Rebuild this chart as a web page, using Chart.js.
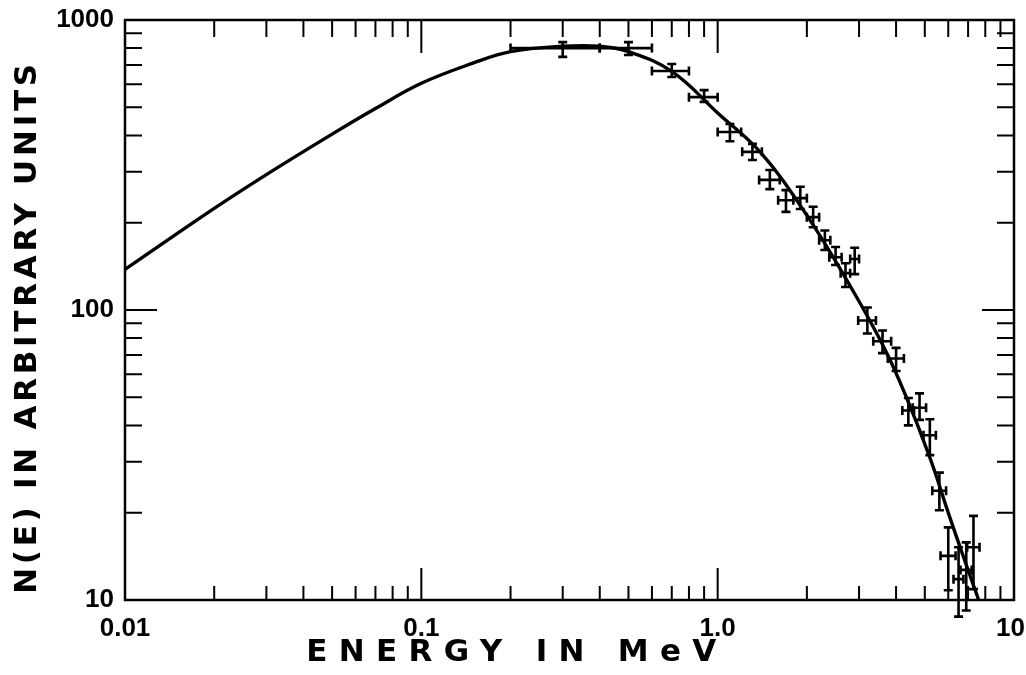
<!DOCTYPE html>
<html>
<head>
<meta charset="utf-8">
<script src="https://cdn.jsdelivr.net/npm/chart.js@4.4.1/dist/chart.umd.min.js"></script>
<style>
  html, body { margin: 0; padding: 0; background: #fff; }
  #wrap { width: 1026px; height: 675px; position: relative; }
</style>
</head>
<body>
<div id="wrap"><canvas id="chart"></canvas></div>
<script>
// measured spectrum points (MeV, arbitrary units)
const energy = [0.3, 0.5, 0.7, 0.9, 1.1, 1.31, 1.5, 1.7, 1.9, 2.1, 2.3, 2.5, 2.7, 2.9,
  3.2, 3.6, 4.0, 4.4, 4.8, 5.2, 5.6, 6.0, 6.5, 6.9, 7.3];
const energyErr = [0.1, 0.1, 0.1, 0.1, 0.1, 0.1, 0.12, 0.1, 0.1, 0.1, 0.1, 0.12, 0.1, 0.1,
  0.22, 0.25, 0.25, 0.2, 0.25, 0.25, 0.3, 0.35, 0.25, 0.3, 0.35];
const counts = [800, 800, 667, 542, 411, 351, 281, 239, 243, 209, 174, 152, 134, 150,
  92, 78, 68, 45, 46, 37, 23.8, 14.2, 11.8, 12.7, 15.2];
const countsLow = [746, 757, 636, 522, 382, 329, 261, 218, 223, 193, 161, 143, 120, 133,
  83, 71, 61.6, 40, 41.8, 31.6, 20.4, 10.8, 8.76, 9.2, 10.9];
const countsHigh = [839, 839, 705, 573, 438, 374, 304, 259, 266, 227, 188, 165, 145, 164,
  102, 85, 74, 49.7, 51.6, 42, 27.5, 17.8, 15.2, 15.8, 19.5];

// smooth theoretical curve
const fitE = [0.01, 0.02, 0.03, 0.05, 0.07, 0.1, 0.15, 0.2, 0.3, 0.4, 0.5, 0.7,
  1.0, 1.4, 2.0, 2.8, 3.6, 4.3, 5.2, 6.0, 6.8, 7.6];
const fitN = [138, 224, 293, 404, 495, 605, 711, 778, 812, 812, 778, 665,
  478, 348, 212, 121, 76, 51, 31, 20, 13.8, 10];

const xTickLabels = { 0.01: '0.01', 0.1: '0.1', 1: '1.0', 10: '10 ' };
const yTickLabels = { 10: '10', 100: '100', 1000: '1000' };
const xTitle = 'ENERGY IN MeV';
const yTitle = 'N(E) IN ARBITRARY UNITS';

const INK = '#000';
const TITLE_FONT = 'bold 31px "DejaVu Sans", sans-serif';

function decadeTicks(min, max) {
  const out = [];
  for (let v = min; v <= max * 1.0001; v *= 10) out.push({ value: v });
  return out;
}

function minorValues(min, max) {
  const out = [];
  for (let d = min; d < max * 0.999; d *= 10) {
    for (let k = 1; k <= 9; k++) out.push({ v: d * k, major: k === 1 });
  }
  out.push({ v: max, major: true });
  return out;
}

// frame + inward ticks on all four sides, plus the axis titles
const frameTicks = {
  id: 'frameTicks',
  afterDraw(chart) {
    const { ctx, chartArea: a, scales } = chart;
    const xs = scales.x, ys = scales.y;
    ctx.save();
    ctx.strokeStyle = INK;
    ctx.lineWidth = 2.5;
    ctx.strokeRect(a.left, a.top, a.right - a.left, a.bottom - a.top);
    ctx.lineWidth = 2;
    minorValues(xs.min, xs.max).forEach(t => {
      const px = xs.getPixelForValue(t.v);
      ctx.beginPath();
      ctx.moveTo(px, a.bottom); ctx.lineTo(px, a.bottom - (t.major ? 32 : 14));
      ctx.moveTo(px, a.top); ctx.lineTo(px, a.top + (t.major ? 33 : 17));
      ctx.stroke();
    });
    minorValues(ys.min, ys.max).forEach(t => {
      const py = ys.getPixelForValue(t.v);
      const len = t.major ? 32 : 17;
      ctx.beginPath();
      ctx.moveTo(a.left, py); ctx.lineTo(a.left + len, py);
      ctx.moveTo(a.right, py); ctx.lineTo(a.right - len, py);
      ctx.stroke();
    });

    ctx.fillStyle = INK;
    ctx.font = TITLE_FONT;
    ctx.textAlign = 'center';
    ctx.textBaseline = 'middle';
    const spread = (text, target) => {
      ctx.letterSpacing = '0px';
      const w = ctx.measureText(text).width;
      const sp = Math.max(0, (target - w) / (text.length - 1));
      ctx.letterSpacing = sp.toFixed(2) + 'px';
    };
    spread(xTitle, 410);
    ctx.fillText(xTitle, 517, 653);
    ctx.save();
    ctx.translate(28, 327);
    ctx.rotate(-Math.PI / 2);
    spread(yTitle, 530);
    ctx.fillText(yTitle, 0, 0);
    ctx.restore();
    ctx.restore();
  }
};

// horizontal and vertical error bars with end caps
const errorBars = {
  id: 'errorBars',
  afterDatasetsDraw(chart) {
    const { ctx, scales } = chart;
    const xs = scales.x, ys = scales.y;
    const cap = 4.5;
    ctx.save();
    ctx.strokeStyle = INK;
    ctx.lineWidth = 2.6;
    energy.forEach((e, i) => {
      const px = xs.getPixelForValue(e);
      const py = ys.getPixelForValue(counts[i]);
      const yTop = ys.getPixelForValue(countsHigh[i]);
      const yBot = ys.getPixelForValue(countsLow[i]);
      const xL = xs.getPixelForValue(e - energyErr[i]);
      const xR = xs.getPixelForValue(e + energyErr[i]);
      ctx.beginPath();
      ctx.moveTo(px, yTop); ctx.lineTo(px, yBot);
      ctx.moveTo(px - cap, yTop); ctx.lineTo(px + cap, yTop);
      ctx.moveTo(px - cap, yBot); ctx.lineTo(px + cap, yBot);
      ctx.moveTo(xL, py); ctx.lineTo(xR, py);
      ctx.moveTo(xL, py - cap); ctx.lineTo(xL, py + cap);
      ctx.moveTo(xR, py - cap); ctx.lineTo(xR, py + cap);
      ctx.stroke();
    });
    ctx.restore();
  }
};

const tickFont = { family: '"Liberation Sans", Arial, sans-serif', size: 26, weight: 'bold' };

new Chart(document.getElementById('chart'), {
  data: {
    datasets: [
      {
        type: 'line',
        label: 'curve',
        data: fitE.map((e, i) => ({ x: e, y: fitN[i] })),
        borderColor: INK,
        borderWidth: 3.4,
        pointRadius: 0,
        tension: 0.4,
        fill: false,
        clip: false
      },
      {
        type: 'scatter',
        label: 'data',
        data: energy.map((e, i) => ({ x: e, y: counts[i] })),
        pointRadius: 0,
        borderColor: INK,
        backgroundColor: INK,
        clip: false
      }
    ]
  },
  options: {
    responsive: true,
    maintainAspectRatio: false,
    animation: false,
    layout: { padding: { top: 20, right: 12, left: 0, bottom: 0 } },
    plugins: { legend: { display: false }, tooltip: { enabled: false }, title: { display: false } },
    scales: {
      x: {
        type: 'logarithmic',
        min: 0.01,
        max: 10,
        grid: { display: false, drawTicks: false },
        border: { display: false },
        afterBuildTicks: s => { s.ticks = decadeTicks(0.01, 10); },
        afterFit: s => { s.height = 75; s.paddingLeft = 0; s.paddingRight = 0; },
        ticks: {
          color: INK,
          font: tickFont,
          padding: 13,
          maxRotation: 0,
          autoSkip: false,
          callback: v => xTickLabels[v] || ''
        }
      },
      y: {
        type: 'logarithmic',
        min: 10,
        max: 1000,
        grid: { display: false, drawTicks: false },
        border: { display: false },
        afterBuildTicks: s => { s.ticks = decadeTicks(10, 1000); },
        afterFit: s => { s.width = 125; s.paddingTop = 0; s.paddingBottom = 0; },
        ticks: {
          color: INK,
          font: tickFont,
          padding: 11,
          autoSkip: false,
          callback: v => yTickLabels[v] || ''
        }
      }
    }
  },
  plugins: [errorBars, frameTicks]
});
</script>
</body>
</html>
